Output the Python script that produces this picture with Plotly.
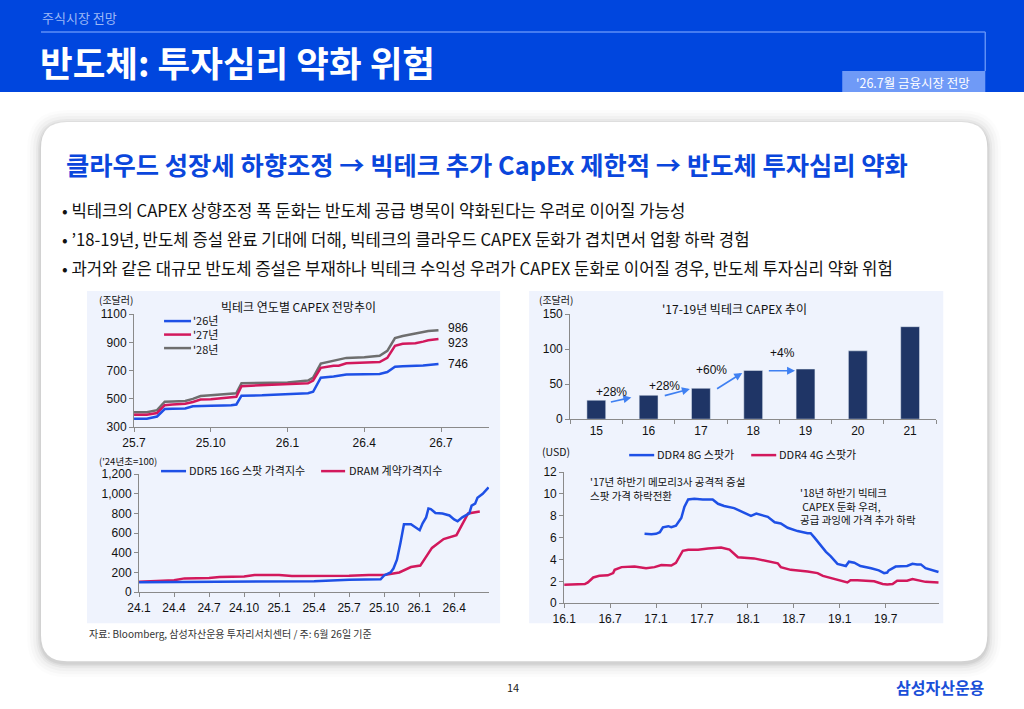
import plotly.graph_objects as go

W, H = 1024, 709
FONT = "Noto Sans CJK KR"
# observed photo mapping of figure pixels: shown = (OX + SX*x, OY + SY*y); compensate for it
OX, SX, OY, SY = 11.0, 0.988, 8.0, 0.98

# ---------------- DATA ----------------
# Chart 1: Big tech CAPEX forecast by year (months since 2025-07)
c1_ticks = ["25.7", "25.10", "26.1", "26.4", "26.7"]
c1_tickvals = [0, 3, 6, 9, 12]
c1_month = [0.0, 0.5, 0.9, 1.2, 1.5, 2.0, 2.3, 2.6, 3.0, 3.5, 3.8, 4.0, 4.2, 5.0, 5.5, 6.0,
            6.8, 7.0, 7.3, 7.8, 8.0, 8.3, 9.0, 9.6, 9.9, 10.2, 10.5, 11.0, 11.3, 11.5, 11.9]
capex_26 = [359, 360, 375, 428, 430, 432, 447, 450, 452, 453, 454, 460, 522, 525, 530, 535,
            540, 550, 650, 658, 662, 672, 674, 676, 690, 727, 730, 732, 736, 740, 746]
capex_27 = [387, 388, 400, 455, 460, 465, 478, 495, 498, 505, 508, 515, 590, 595, 598, 600,
            610, 630, 720, 735, 735, 752, 756, 760, 790, 875, 890, 893, 905, 915, 923]
capex_28 = [405, 406, 420, 480, 482, 485, 500, 520, 525, 530, 535, 540, 610, 610, 612, 615,
            630, 650, 750, 770, 775, 790, 795, 805, 840, 930, 945, 960, 970, 980, 986]

# Chart 2: '17-19 big tech CAPEX
c2_years = ["15", "16", "17", "18", "19", "20", "21"]
c2_values = [27, 34, 44, 69.5, 71.5, 97.5, 132]
c2_growth = ["+28%", "+28%", "+60%", "+4%"]

# Chart 3: DDR5 spot / DRAM contract index (months since 2024-01)
c3_ticks = ["24.1", "24.4", "24.7", "24.10", "25.1", "25.4", "25.7", "25.10", "26.1", "26.4"]
c3_tickvals = [0, 3, 6, 9, 12, 15, 18, 21, 24, 27]
ddr5_m = [0, 3, 6, 9, 12, 13, 15, 18, 20.7, 21.0, 21.55, 21.8, 22.1, 22.4, 22.55, 22.7, 23.3,
          23.85, 24.05, 24.3, 24.6, 24.8, 25.0, 25.4, 26.0, 26.6, 27.0, 27.3, 27.7, 28.3, 28.5,
          28.8, 29.0, 29.45, 29.95]
ddr5_v = [100, 102, 105, 108, 110, 105, 112, 125, 130, 170, 200, 240, 330, 500, 600, 690, 690,
          640, 630, 700, 760, 850, 845, 805, 800, 780, 740, 720, 760, 800, 880,
          900, 960, 1000, 1065]
dram_m = [0, 2, 3, 3.9, 6, 6.9, 9, 9.9, 12, 13.1, 15, 18, 19.7, 21, 22.3, 23.3, 24.1, 25.1,
          26.1, 27.2, 28.2, 29.2]
dram_v = [105, 115, 120, 140, 145, 155, 160, 175, 175, 165, 165, 168, 175, 175, 200, 255, 270,
          450, 540, 580, 800, 820]

# Chart 4: DDR4 spot prices (months since 2016-01)
c4_ticks = ["16.1", "16.7", "17.1", "17.7", "18.1", "18.7", "19.1", "19.7"]
c4_tickvals = [0, 6, 12, 18, 24, 30, 36, 42]
ddr4_8g_m = [10.5, 11.4, 12.0, 12.5, 12.9, 13.6, 14.0, 14.6, 15.3, 15.7, 16.2, 17.0, 18.1, 19.4,
             20.1, 20.9, 22.2, 23.1, 24.4, 25.1, 26.6, 27.5, 28.3, 29.2, 30.5, 31.8, 32.2, 32.7,
             33.5, 34.2, 34.8, 35.7, 36.8, 37.2, 37.9, 38.7, 40.1, 41.1, 41.8, 42.2, 42.4, 43.3,
             44.8, 45.5, 46.1, 46.6, 47.2, 48.1, 48.9]
ddr4_8g_v = [6.35, 6.3, 6.35, 6.5, 6.95, 7.05, 6.95, 7.1, 7.8, 8.8, 9.5, 9.55, 9.5, 9.5,
             9.1, 8.9, 8.7, 8.4, 8.0, 8.2, 7.9, 7.4, 7.3, 6.9, 6.6, 6.4, 6.4, 6.0,
             5.3, 4.7, 4.3, 3.6, 3.4, 3.8, 3.7, 3.4, 3.2, 3.0, 2.75, 2.8, 3.0, 3.35,
             3.4, 3.6, 3.55, 3.55, 3.2, 3.0, 2.85]
ddr4_4g_m = [0, 1.4, 2.7, 3.1, 3.8, 4.6, 5.7, 6.4, 6.6, 7.5, 9.2, 10.7, 11.8, 12.7, 14.0, 14.6,
             15.5, 16.2, 17.5, 18.8, 20.5, 21.6, 22.7, 24.8, 26.6, 27.9, 28.3, 29.6, 31.8, 33.1,
             33.8, 34.8, 36.1, 37.0, 37.4, 38.3, 40.5, 41.6, 42.2, 42.9, 43.5, 44.8, 45.5, 46.3,
             47.2, 48.9]
ddr4_4g_v = [1.68, 1.7, 1.75, 1.9, 2.35, 2.5, 2.55, 2.75, 3.05, 3.3, 3.35, 3.2, 3.3, 3.5, 3.45, 3.7,
             4.8, 4.9, 4.9, 5.0, 5.1, 4.9, 4.2, 4.1, 3.8, 3.65, 3.3, 3.05, 2.9, 2.75,
             2.5, 2.3, 2.1, 1.9, 2.1, 2.1, 2.0, 1.75, 1.7, 1.75, 2.05, 2.05, 2.2, 2.1,
             1.95, 1.9]

# ---------------- HELPERS (target pixel -> paper) ----------------
def PX(x):
    return ((x - OX) / SX) / W

def PY(y):
    return 1 - ((y - OY) / SY) / H

def rrect_path(x0, y0, x1, y1, r):
    def p(x, y):
        return f"{PX(x):.5f},{PY(y):.5f}"
    return (f"M {p(x0 + r, y0)} L {p(x1 - r, y0)} Q {p(x1, y0)} {p(x1, y0 + r)} "
            f"L {p(x1, y1 - r)} Q {p(x1, y1)} {p(x1 - r, y1)} L {p(x0 + r, y1)} "
            f"Q {p(x0, y1)} {p(x0, y1 - r)} L {p(x0, y0 + r)} Q {p(x0, y0)} {p(x0 + r, y0)} Z")

shapes = []
annos = []

def rect(x0, y0, x1, y1, fill):
    shapes.append(dict(type="rect", xref="paper", yref="paper", x0=PX(x0), x1=PX(x1),
                       y0=PY(y1), y1=PY(y0), fillcolor=fill, line=dict(width=0), layer="below"))

def seg(x0, y0, x1, y1, color, width):
    shapes.append(dict(type="line", xref="paper", yref="paper", x0=PX(x0), x1=PX(x1),
                       y0=PY(y0), y1=PY(y1), line=dict(color=color, width=width), layer="above"))

def text(x, y, s, size=12, color="#111", xanchor="left", bold=False, family=FONT, align="left"):
    if bold:
        s = f"<b>{s}</b>"
    annos.append(dict(x=PX(x), y=PY(y), xref="paper", yref="paper", text=s, showarrow=False,
                      xanchor=xanchor, yanchor="middle", align=align, borderpad=0,
                      font=dict(size=size, color=color, family=family)))

# ---------------- PAGE BACKGROUND ----------------
BLUE = "#0046DE"
rect(-30, -30, 1060, 93, BLUE)
seg(40, 33, 984, 33, "#5E8FF6", 1.5)
seg(984, 33, 984, 72, "#5E8FF6", 1.5)
rect(841, 72, 984, 93, "#6F9AF7")
text(40, 18, "주식시장 전망", 13, "#9DB8F7")
text(38, 62, "반도체: 투자심리 약화 위험", 35.5, "white", bold=True)
text(912, 83, "'26.7월 금융시장 전망", 12.5, "white", xanchor="center")

# card shadow
for grow, op in [(14, 0.012), (11, 0.018), (8, 0.025), (5, 0.035), (3, 0.045), (1.5, 0.05)]:
    shapes.append(dict(type="path", xref="paper", yref="paper",
                       path=rrect_path(40 - grow, 123 - grow + 2, 986 + grow, 662 + grow + 2, 26 + grow),
                       fillcolor=f"rgba(0,0,0,{op})", line=dict(width=0), layer="below"))
shapes.append(dict(type="path", xref="paper", yref="paper", path=rrect_path(40, 123, 986, 662, 26),
                   fillcolor="white", line=dict(width=0), layer="below"))

# headline + bullets
text(64, 165, "클라우드 성장세 하향조정 → 빅테크 추가 CapEx 제한적 → 반도체 투자심리 약화", 25.3, "#0A46DC", bold=True)
bul = ["• 빅테크의 CAPEX 상향조정 폭 둔화는 반도체 공급 병목이 약화된다는 우려로 이어질 가능성",
       "• ’18-19년, 반도체 증설 완료 기대에 더해, 빅테크의 클라우드 CAPEX 둔화가 겹치면서 업황 하락 경험",
       "• 과거와 같은 대규모 반도체 증설은 부재하나 빅테크 수익성 우려가 CAPEX 둔화로 이어질 경우, 반도체 투자심리 약화 위험"]
for i, b in enumerate(bul):
    text(60, 211 + i * 29, b, 16.7, "#111")

# chart panels
PANEL = "#EFF3FD"
rect(86, 292, 499, 624, PANEL)
rect(528, 292, 942, 624, PANEL)

# footer
text(87, 634, "자료: Bloomberg, 삼성자산운용 투자리서치센터 / 주: 6월 26일 기준", 10, "#333")
text(512, 688, "14", 11, "#222", xanchor="center")
text(985, 688, "삼성자산운용", 16, "#1A4FD8", xanchor="right", bold=True)

# ---------------- CHARTS ----------------
C_BLUE = "#1E50E6"
C_RED = "#D2185C"
C_GREY = "#6E6E6E"
NAVY = "#1F3566"

fig = go.Figure()

# chart 1
for ys, c in [(capex_28, C_GREY), (capex_27, C_RED), (capex_26, C_BLUE)]:
    fig.add_trace(go.Scatter(x=c1_month, y=ys, mode="lines", line=dict(color=c, width=2.5),
                             xaxis="x", yaxis="y", showlegend=False, hoverinfo="skip"))
# chart 2
fig.add_trace(go.Bar(x=c2_years, y=c2_values, marker=dict(color=NAVY), width=0.36,
                     xaxis="x2", yaxis="y2", showlegend=False, hoverinfo="skip"))
# chart 3
fig.add_trace(go.Scatter(x=dram_m, y=dram_v, mode="lines", line=dict(color=C_RED, width=2.5),
                         xaxis="x3", yaxis="y3", showlegend=False, hoverinfo="skip"))
fig.add_trace(go.Scatter(x=ddr5_m, y=ddr5_v, mode="lines", line=dict(color=C_BLUE, width=2.5),
                         xaxis="x3", yaxis="y3", showlegend=False, hoverinfo="skip"))
# chart 4
fig.add_trace(go.Scatter(x=ddr4_4g_m, y=ddr4_4g_v, mode="lines", line=dict(color=C_RED, width=2.5),
                         xaxis="x4", yaxis="y4", showlegend=False, hoverinfo="skip"))
fig.add_trace(go.Scatter(x=ddr4_8g_m, y=ddr4_8g_v, mode="lines", line=dict(color=C_BLUE, width=2.5),
                         xaxis="x4", yaxis="y4", showlegend=False, hoverinfo="skip"))

AX = dict(showgrid=False, zeroline=False, showline=True, linecolor="#8A8A8A", linewidth=1,
          ticks="outside", ticklen=4, tickcolor="#8A8A8A",
          tickfont=dict(size=12, color="#111", family="Liberation Sans"))

def dom(a, b, horiz):
    if horiz:
        return [PX(a), PX(b)]
    return [PY(b), PY(a)]

layout_axes = dict(
    xaxis=dict(AX, domain=dom(133, 488, True), range=[0, 13.88], tickvals=c1_tickvals,
               ticktext=c1_ticks, anchor="y"),
    yaxis=dict(AX, domain=dom(315, 428, False), range=[300, 1100], tickvals=[300, 500, 700, 900, 1100],
               anchor="x"),
    xaxis2=dict(AX, domain=dom(569, 935, True), type="category", range=[-0.5, 6.5],
                tickson="boundaries", anchor="y2"),
    yaxis2=dict(AX, domain=dom(315, 420, False), range=[0, 150], tickvals=[0, 50, 100, 150], anchor="x2"),
    xaxis3=dict(AX, domain=dom(138, 488, True), range=[0, 30], tickvals=c3_tickvals,
                ticktext=c3_ticks, anchor="y3"),
    yaxis3=dict(AX, domain=dom(475, 593, False), range=[0, 1200],
                tickvals=[0, 200, 400, 600, 800, 1000, 1200], tickformat=",", anchor="x3"),
    xaxis4=dict(AX, domain=dom(563, 938, True), range=[0, 49], tickvals=c4_tickvals,
                ticktext=c4_ticks, anchor="y4"),
    yaxis4=dict(AX, domain=dom(473, 604, False), range=[0, 12], tickvals=[0, 2, 4, 6, 8, 10, 12], anchor="x4"),
)

# chart 1 texts
text(97, 300, "(조달러)", 10, "#111")
text(297, 307, "빅테크 연도별 CAPEX 전망추이", 12, "#111", xanchor="center")
for i, c in enumerate([C_BLUE, C_RED, C_GREY]):
    yy = 322 + i * 13.5
    seg(163, yy, 190, yy, c, 2.5)
text(191, 335.5, "'26년<br>'27년<br>'28년", 11, "#111")
for v in [capex_28[-1], capex_27[-1], capex_26[-1]]:
    annos.append(dict(x=11.9, y=v, xref="x", yref="y", text=str(v), showarrow=False,
                      xanchor="left", yanchor="middle", xshift=8,
                      yshift={986: 2, 923: -4, 746: 0}[v],
                      font=dict(size=12, color="#111", family="Liberation Sans")))

# chart 2 texts
text(537, 300, "(조달러)", 10, "#111")
text(733, 309, "'17-19년 빅테크 CAPEX 추이", 12, "#111", xanchor="center")
ARROW = "#3F80F2"
arrows = [((0.25, 24), (0.67, 31)), ((1.28, 33), (1.79, 43)), ((2.28, 42), (2.79, 66)), ((3.27, 69), (3.8, 69))]
lab_pos = [(0.3, 38), (1.3, 47), (2.2, 70), (3.56, 95)]
for (s, e), g, lp in zip(arrows, c2_growth, lab_pos):
    annos.append(dict(x=e[0], y=e[1], ax=s[0], ay=s[1], xref="x2", yref="y2", axref="x2", ayref="y2",
                      text="", showarrow=True, arrowhead=2, arrowsize=1, arrowwidth=1.6,
                      arrowcolor=ARROW))
    annos.append(dict(x=lp[0], y=lp[1], xref="x2", yref="y2", text=g, showarrow=False,
                      xanchor="center", yanchor="middle",
                      font=dict(size=12, color="#111", family="Liberation Sans")))

# chart 3 texts
text(97, 462, "('24년초=100)", 9.5, "#111")
seg(160, 472, 185, 472, C_BLUE, 2.5)
text(187, 471, "DDR5 16G 스팟 가격지수", 11, "#111")
seg(320, 472, 344, 472, C_RED, 2.5)
text(347, 471, "DRAM 계약가격지수", 11, "#111")

# chart 4 texts
text(540, 452, "(USD)", 10.5, "#111")
seg(628, 456, 653, 456, C_BLUE, 2.5)
text(655, 455, "DDR4 8G 스팟가", 11, "#111")
seg(750, 456, 775, 456, C_RED, 2.5)
text(777, 455, "DDR4 4G 스팟가", 11, "#111")
text(588, 489, "'17년 하반기 메모리3사 공격적 증설<br>스팟 가격 하락전환", 10.5, "#111")
text(798, 507, "'18년 하반기 빅테크<br> CAPEX 둔화 우려,<br>공급 과잉에 가격 추가 하락", 10.5, "#111")

fig.update_layout(
    width=W, height=H, margin=dict(l=0, r=0, t=0, b=0),
    paper_bgcolor="white", plot_bgcolor="rgba(0,0,0,0)",
    font=dict(family=FONT, color="#111"),
    shapes=shapes, annotations=annos, showlegend=False,
    **layout_axes,
)

fig.write_html("out.html")
